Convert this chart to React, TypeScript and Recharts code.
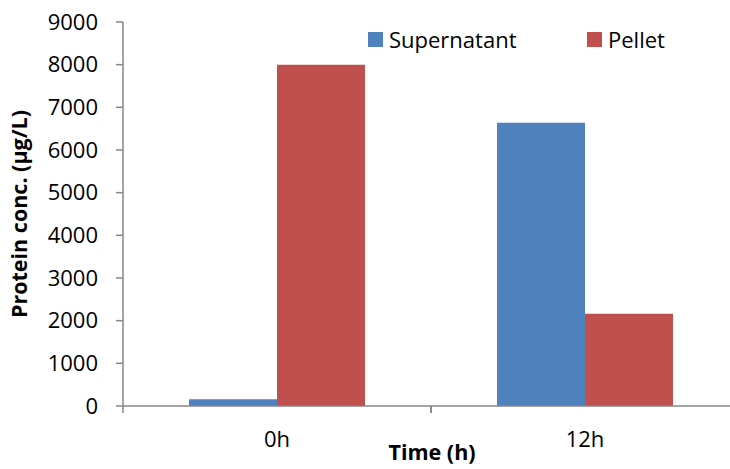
import { Bar, BarChart, XAxis, YAxis } from "recharts";

const timepoints = ["0h", "12h"];
const supernatant = [160, 6640];
const pellet = [8000, 2160];
const yTicks = [0, 1000, 2000, 3000, 4000, 5000, 6000, 7000, 8000, 9000];

const data = timepoints.map((time, i) => ({
  time,
  supernatant: supernatant[i],
  pellet: pellet[i],
}));

const AXIS = "#868686";
const FONT = "'Open Sans', sans-serif";
const BLUE = "#4F81BD";
const RED = "#C0504D";

function TimeTick(props: any) {
  const { x, y, payload } = props;
  const half = payload?.offset ?? 154;
  return (
    <g>
      <line x1={x - half} x2={x - half} y1={y} y2={y + 7} stroke={AXIS} strokeWidth={1.5} />
      <line x1={x + half} x2={x + half} y1={y} y2={y + 7} stroke={AXIS} strokeWidth={1.5} />
      <text
        x={x}
        y={y + 35}
        textAnchor="middle"
        dominantBaseline="middle"
        fontFamily={FONT}
        fontSize={22}
        fill="#000"
      >
        {payload.value}
      </text>
    </g>
  );
}

// legend drawn over the chart so it doesn't take space from the plot
function LegendBox() {
  const item = (color: string, label: string, left: number) => (
    <div
      style={{
        position: "absolute",
        left,
        top: 0,
        display: "flex",
        alignItems: "center",
        whiteSpace: "nowrap",
      }}
    >
      <span style={{ width: 15, height: 15, background: color, marginRight: 6 }} />
      <span style={{ fontFamily: FONT, fontSize: 22, color: "#000", lineHeight: "30px" }}>{label}</span>
    </div>
  );
  return (
    <div style={{ position: "absolute", top: 24, left: 368, width: 360, height: 30 }}>
      {item(BLUE, "Supernatant", 0)}
      {item(RED, "Pellet", 219)}
    </div>
  );
}

export default function App() {
  return (
    <div
      style={{
        position: "absolute",
        left: 0,
        top: 0,
        width: 730,
        height: 469,
        overflow: "hidden",
        background: "#fff",
      }}
    >
      <BarChart
        width={745}
        height={469}
        data={data}
        margin={{ top: 22, right: 6, bottom: 0, left: 0 }}
        barGap={0}
      >
        <XAxis
          dataKey="time"
          height={63}
          stroke={AXIS}
          strokeWidth={1.5}
          tickLine={false}
          tickSize={0}
          tickMargin={0}
          tick={<TimeTick />}
          label={(p: any) => {
            const vb = p.viewBox;
            return (
              <text
                x={vb.x + vb.width / 2 + 1}
                y={454}
                textAnchor="middle"
                dominantBaseline="middle"
                fontFamily={FONT}
                fontWeight="bold"
                fontSize={21.5}
                fill="#000"
              >
                Time (h)
              </text>
            );
          }}
        />
        <YAxis
          width={123}
          domain={[0, 9000]}
          ticks={yTicks}
          interval={0}
          stroke={AXIS}
          strokeWidth={1.5}
          tickSize={7}
          tickMargin={18}
          tick={{ fontFamily: FONT, fontSize: 22, fill: "#000" }}
          label={(p: any) => {
            const vb = p.viewBox;
            const cy = vb.y + vb.height / 2;
            return (
              <text
                x={21}
                y={cy}
                transform={`rotate(-90 21 ${cy})`}
                textAnchor="middle"
                dominantBaseline="middle"
                fontFamily={FONT}
                fontWeight="bold"
                fontSize={21.5}
                fill="#000"
              >
                Protein conc. (µg/L)
              </text>
            );
          }}
        />
        <Bar
          dataKey="supernatant"
          name="Supernatant"
          fill={BLUE}
          barSize={88}
          isAnimationActive={false}
        />
        <Bar
          dataKey="pellet"
          name="Pellet"
          fill={RED}
          barSize={88}
          isAnimationActive={false}
        />
      </BarChart>
      <LegendBox />
    </div>
  );
}
